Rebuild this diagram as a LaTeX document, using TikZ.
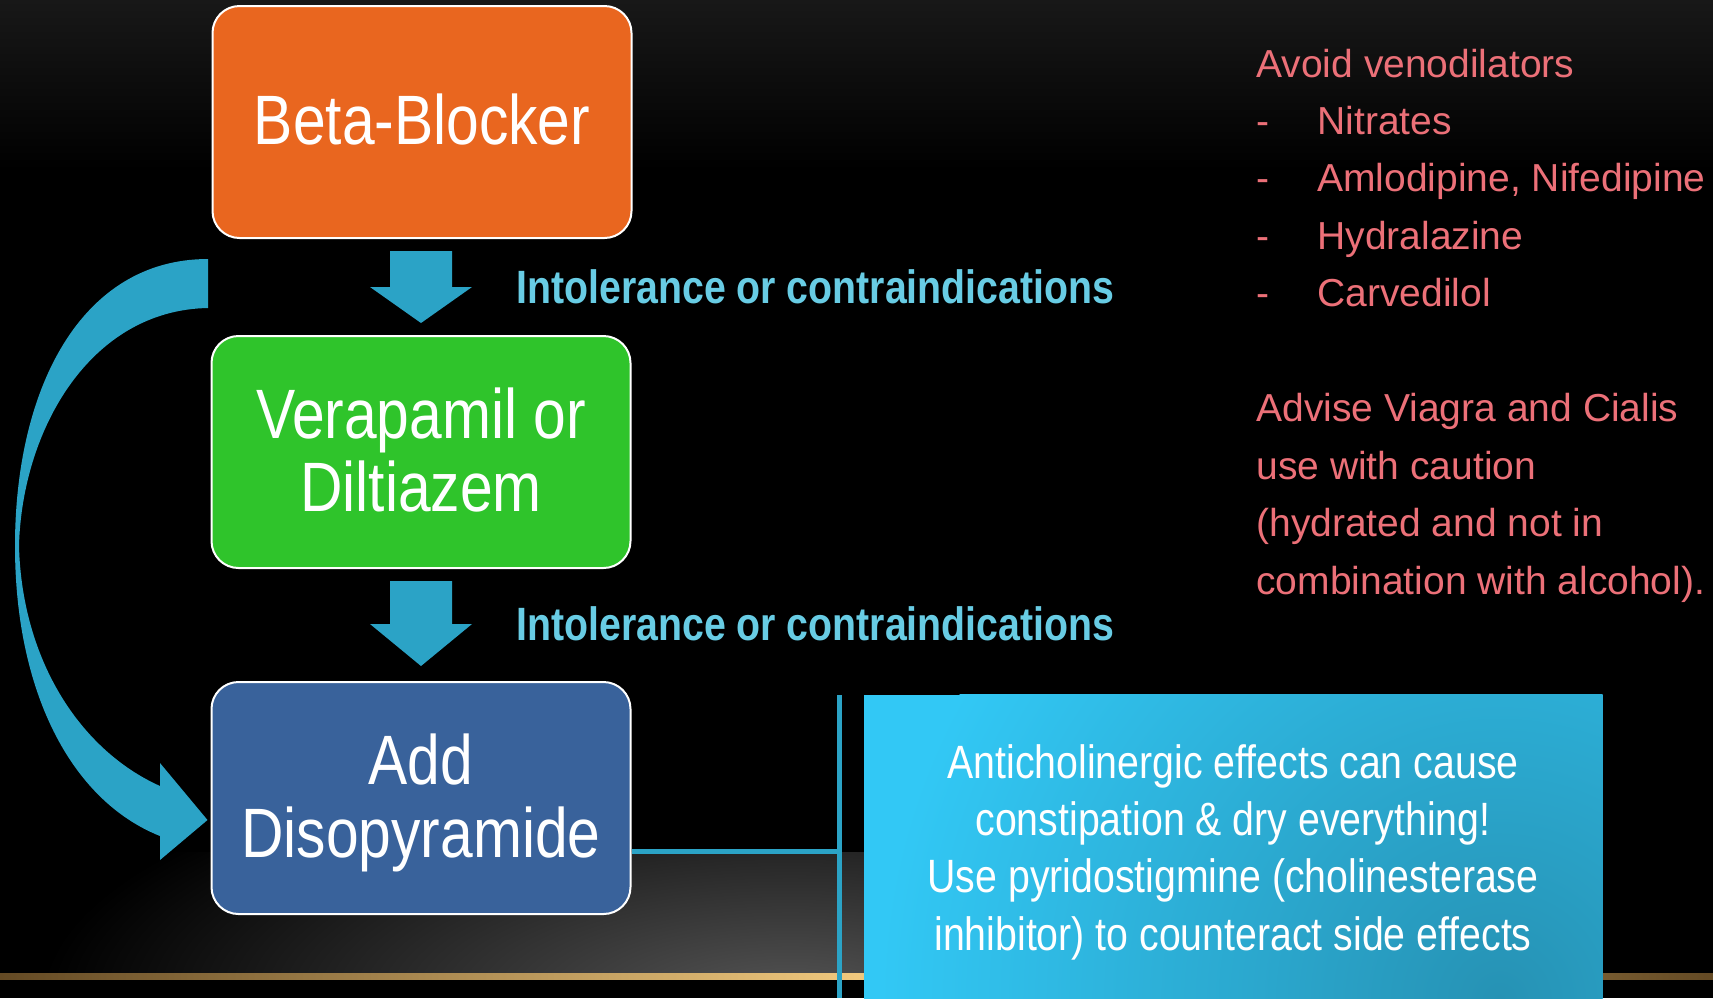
\documentclass[tikz,border=0pt]{standalone}
\usepackage{fontspec}
\setmainfont{Liberation Sans}
\newfontfamily\narrowfont{Liberation Sans}[FakeStretch=0.84]
\usepackage{tikz}
\usetikzlibrary{calc}

\definecolor{betaorange}{RGB}{233,102,31}
\definecolor{veragreen}{RGB}{47,196,43}
\definecolor{addblue}{RGB}{57,98,155}
\definecolor{flowteal}{RGB}{43,163,198}
\definecolor{intolcyan}{RGB}{104,204,228}
\definecolor{warnpink}{RGB}{236,112,120}
\definecolor{notecyan}{RGB}{50,200,245}
\definecolor{noteteal}{RGB}{38,146,180}
\definecolor{topgray}{RGB}{24,24,24}
\definecolor{glowgray}{RGB}{85,85,85}
\definecolor{goldline}{RGB}{240,200,125}
\definecolor{golddim}{RGB}{100,74,36}

\begin{document}
\begin{tikzpicture}[x=0.2mm, y=-0.2mm,
  drug/.style={draw=white, line width=0.4mm, rounded corners=5.4mm, minimum width=83.8mm, minimum height=46.4mm,
    text=white, align=center, font={\narrowfont\fontsize{39.8}{41.5}\selectfont}},
  cond/.style={anchor=west, inner sep=0, text=intolcyan, font={\narrowfont\bfseries\fontsize{26.6}{32}\selectfont}},
  warn/.style={anchor=base west, inner sep=0, text=warnpink, font={\fontsize{22.2}{32.7}\selectfont}},
  note/.style={minimum width=147.8mm, minimum height=63mm, inner sep=0, text=white, align=center,
    font={\narrowfont\fontsize{26.6}{32.6}\selectfont},
    path picture={
      \fill[notecyan] (path picture bounding box.south west) rectangle (path picture bounding box.north east);
      \shade[inner color=noteteal, outer color=notecyan] ($(path picture bounding box.north east)+(-103,305)$) circle (620);
    }},
  flow/.style={fill=flowteal},
  link/.style={draw=flowteal, line width=1mm}]

% background
\useasboundingbox (0,0) rectangle (1713,998);
\fill[black] (0,0) rectangle (1713,998);
\shade[top color=topgray, bottom color=black] (0,0) rectangle (1713,170);
\begin{scope}
\clip (0,852) rectangle (1713,975);
\begin{scope}[transform canvas={yscale=0.35}]
\shade[inner color=glowgray, outer color=black] (790,2857) circle (750);
\end{scope}
\end{scope}
\shade[left color=golddim, right color=golddim, middle color=goldline] (0,973) rectangle (1713,979);

% boxes
\node[drug, fill=betaorange, text depth=1.3mm] (beta) at (422,122) {Beta-Blocker};
\node[drug, fill=veragreen, text depth=1.1mm] (vera) at (421,452) {Verapamil or\\Diltiazem};
\node[drug, fill=addblue, text depth=1mm] (add) at (421,798) {Add\\Disopyramide};

% down arrows
\fill[flow] ($(vera.north)+(-31,-84)$) -- ++(62,0) -- ++(0,36) -- ++(20,0) -- ($(vera.north)+(0,-12)$) -- ++(-51,-36) -- ++(20,0) -- cycle;
\fill[flow] ($(add.north)+(-31,-100)$) -- ++(62,0) -- ++(0,43) -- ++(20,0) -- ($(add.north)+(0,-15)$) -- ++(-51,-42) -- ++(20,0) -- cycle;

\node[cond] (cond1) at (516,287) {Intolerance or contraindications};
\node[cond] (cond2) at (516,624) {Intolerance or contraindications};

% skip arrow
\coordinate (loopstart) at (208,259);
\fill[flow] (loopstart) .. controls (80,259) and (15,390) .. (15,546) .. controls (15,690) and (70,800) .. (160,836)
  -- (160,860) -- ($(add.west)+(-3,22)$) -- (160,763) -- (160,786)
  .. controls (80,750) and (22,660) .. (19,546) .. controls (22,430) and (90,310) .. (208,308) -- cycle;

% side note
\coordinate (bartop) at (839,695);
\coordinate (barbot) at (839,998);
\coordinate (joint) at (839,851);
\draw[link] (bartop) -- (barbot);
\draw[link] (add.east |- joint) -- (joint);

\node[note] (note) at (1233,852) {Anticholinergic effects can cause\\constipation \& dry everything!\\Use pyridostigmine (cholinesterase\\inhibitor) to counteract side effects};

\node[warn] (warn) at (1256,77) {\parbox[t]{95mm}{\raggedright
Avoid venodilators\\
\makebox[12.2mm][l]{-}Nitrates\\
\makebox[12.2mm][l]{-}Amlodipine, Nifedipine\\
\makebox[12.2mm][l]{-}Hydralazine\\
\makebox[12.2mm][l]{-}Carvedilol\\[32.7pt]
Advise Viagra and Cialis\\
use with caution\\
(hydrated and not in\\
combination with alcohol).}};

\end{tikzpicture}
\end{document}
